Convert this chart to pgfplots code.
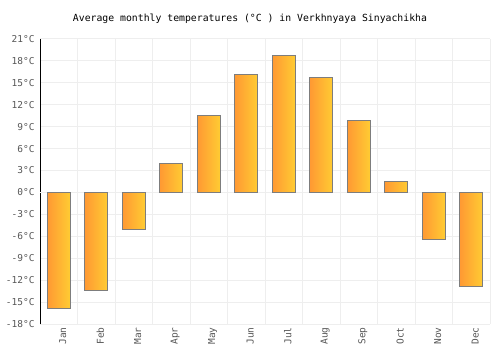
\documentclass[border=0pt]{standalone}
\usepackage{pgfplots}
\pgfplotsset{compat=1.18}
\usepackage{fontspec}
\setmainfont{DejaVu Sans Mono}
\setmonofont{DejaVu Sans Mono}
\definecolor{barL}{RGB}{255,153,51}
\definecolor{barR}{RGB}{255,204,51}
\definecolor{gridc}{RGB}{238,238,238}
\definecolor{tickc}{RGB}{85,85,85}
\definecolor{barEdge}{RGB}{125,125,125}
\pgfplotsset{mybar/.style={ybar, bar width=0.62, bar shift=0pt, draw=barEdge, line width=1bp, left color=barL, right color=barR}}
\begin{document}
\begin{tikzpicture}[x=1bp,y=1bp]
\path[use as bounding box] (0,0) rectangle (500,350);
\node[font=\fontsize{9.8bp}{11bp}\selectfont, anchor=center] at (250,331) {Average monthly temperatures (°C ) in Verkhnyaya Sinyachikha};
\begin{axis}[
  at={(40bp,26bp)}, anchor=south west,
  scale only axis, width=450bp, height=285bp,
  xmin=-0.5, xmax=11.5, ymin=-18, ymax=21,
  ytick={-18,-15,...,21},
  yticklabel={\pgfmathprintnumber{\tick}°C},
  /pgf/number format/assume math mode=true,
  xtick={0,...,11},
  xticklabels={Jan,Feb,Mar,Apr,May,Jun,Jul,Aug,Sep,Oct,Nov,Dec},
  x tick label style={rotate=90, anchor=east, font=\fontsize{9.5bp}{11bp}\selectfont, text=tickc},
  y tick label style={font=\fontsize{9.5bp}{11bp}\selectfont, text=tickc},
  minor xtick={-0.5,0.5,...,11.5},
  minor x grid style={gridc, line width=1bp},
  xminorgrids=true,
  ymajorgrids=true,
  major grid style={gridc, line width=1bp},
  major tick length=0pt, minor tick length=0pt,
  axis x line*=bottom,
  axis y line*=left,
  x axis line style={draw=none},
  y axis line style={black, line width=1bp, -},
  extra y ticks={0},
  extra y tick labels={},
  extra y tick style={grid style={black, line width=1bp}},
  xticklabel style={yshift=-4bp},
  yticklabel style={xshift=-2bp},
  clip=false,
]
\addplot[mybar] coordinates {(0,-15.9)};
\addplot[mybar] coordinates {(1,-13.4)};
\addplot[mybar] coordinates {(2,-5.1)};
\addplot[mybar] coordinates {(3,3.9)};
\addplot[mybar] coordinates {(4,10.6)};
\addplot[mybar] coordinates {(5,16.2)};
\addplot[mybar] coordinates {(6,18.8)};
\addplot[mybar] coordinates {(7,15.7)};
\addplot[mybar] coordinates {(8,9.8)};
\addplot[mybar] coordinates {(9,1.5)};
\addplot[mybar] coordinates {(10,-6.5)};
\addplot[mybar] coordinates {(11,-12.9)};
\end{axis}
\end{tikzpicture}
\end{document}
